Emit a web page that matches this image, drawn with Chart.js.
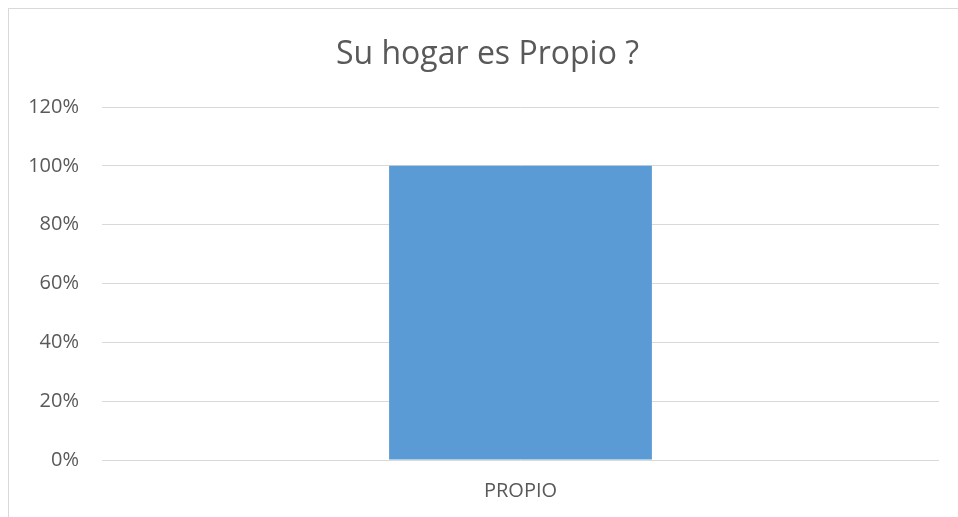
<!DOCTYPE html>
<html>
<head>
<meta charset="utf-8">
<script src="https://cdn.jsdelivr.net/npm/chart.js@4"></script>
<style>
  html, body { margin: 0; padding: 0; background: #fff; }
  #frame { position: absolute; left: 8px; top: 8px; width: 960px; height: 520px;
           border-left: 1px solid #d9d9d9; border-top: 1px solid #d9d9d9; }
  #wrap { position: absolute; left: 0; top: 0; width: 958px; height: 517px; }
</style>
</head>
<body>
<div id="frame"></div>
<div id="wrap"><canvas id="chart"></canvas></div>
<script>
// datos del grafico
const categorias = ["PROPIO"];
const valores = [1.0];
const titulo = "Su hogar es Propio ?";

const fuente = "'Open Sans', sans-serif";
const gris = "#595959";

const ctx = document.getElementById("chart");

// el titulo de Excel queda un poco corrido a la derecha
const correrTitulo = {
  id: "correrTitulo",
  afterLayout(chart) {
    if (chart.titleBlock) chart.titleBlock.left += 36;
  },
};

new Chart(ctx, {
  type: "bar",
  data: {
    labels: categorias,
    datasets: [
      {
        label: "Propio",
        data: valores,
        backgroundColor: "#5b9bd5",
        categoryPercentage: 1,
        barPercentage: 0.314,
      },
    ],
  },
  options: {
    responsive: true,
    maintainAspectRatio: false,
    animation: false,
    layout: { padding: { left: 0, right: 19, top: 0, bottom: 0 } },
    plugins: {
      legend: { display: false },
      tooltip: { enabled: false },
      title: {
        display: true,
        text: titulo,
        color: gris,
        font: { family: fuente, size: 32, weight: "normal" },
        padding: { top: 36, bottom: 32.6 },
      },
    },
    scales: {
      x: {
        grid: { display: false, drawTicks: false },
        border: { display: false },
        ticks: { color: gris, font: { family: fuente, size: 20 }, padding: 19 },
        afterFit: (scale) => { scale.height = 57; },
      },
      y: {
        min: 0,
        max: 1.2,
        ticks: {
          stepSize: 0.2,
          color: gris,
          padding: 23,
          font: { family: fuente, size: 20 },
          callback: (v) => Math.round(v * 100) + "%",
        },
        grid: { color: "#d9d9d9", drawTicks: false, lineWidth: 1 },
        border: { display: false },
        afterFit: (scale) => { scale.width = 102; },
      },
    },
  },
  plugins: [correrTitulo],
});
</script>
</body>
</html>
